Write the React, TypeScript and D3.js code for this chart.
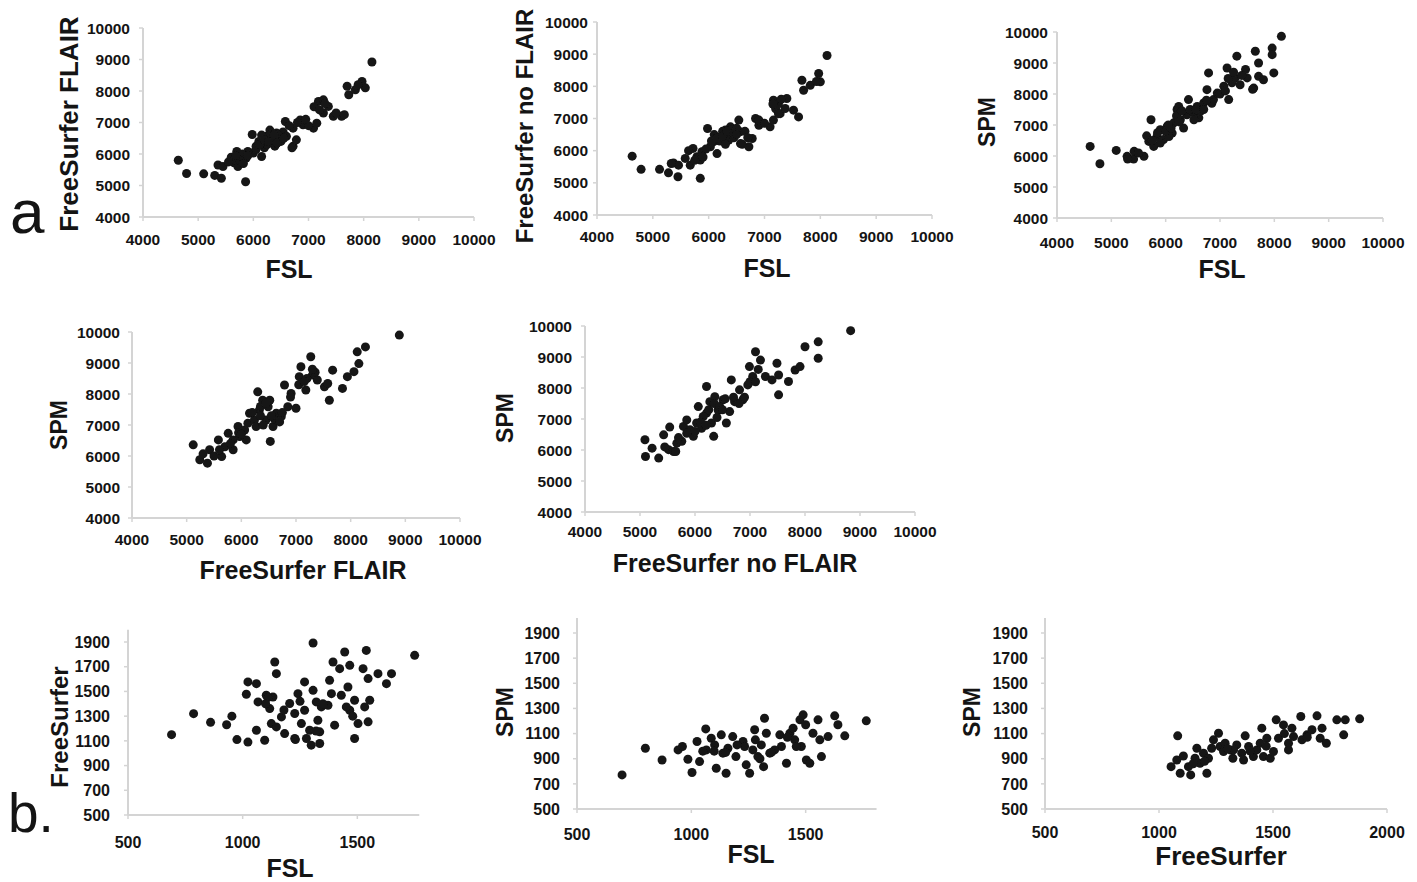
import React from "react";
import * as d3 from "d3";

const FONT = '"Liberation Sans", Arial, Helvetica, sans-serif';
const AXIS = "#d4d4d4";
const INK = "#141414";

// tick values
const BIG_TICKS = [4000, 5000, 6000, 7000, 8000, 9000, 10000];
const SMALL_Y_TICKS = [500, 700, 900, 1100, 1300, 1500, 1700, 1900];
const SMALL_X_TICKS_B1 = [500, 1000, 1500];
const SMALL_X_TICKS_B3 = [500, 1000, 1500, 2000];

// FreeSurfer FLAIR vs FSL
const FS_FLAIR_VS_FSL = [
  [4640, 5800], [4790, 5380], [5100, 5370], [5300, 5320], [5420, 5230], [5360, 5650],
  [5450, 5600], [5600, 5900], [5650, 5720], [5700, 6080], [5720, 5600], [5780, 5950],
  [5870, 5870], [5860, 5120], [5900, 6080], [5980, 6620], [6150, 5920], [6050, 6250],
  [6180, 6350], [6240, 6560], [6300, 6760], [6330, 6450], [6390, 6250], [6420, 6670],
  [6480, 6450], [6540, 6700], [6600, 6560], [6580, 7030], [6720, 6250], [6780, 6450],
  [6720, 6820], [6850, 7080], [6900, 6930], [7090, 6820], [7150, 6980], [7180, 7670],
  [7270, 7300], [7360, 7510], [7450, 7200], [7600, 7200], [7700, 8150], [7730, 7880],
  [7850, 8040], [7970, 8300], [8030, 8100], [8150, 8920], [7270, 7720], [6000, 6030],
  [5800, 6000], [5750, 5800], [6100, 6400], [6200, 6200], [6250, 6500], [6300, 6600],
  [6350, 6350], [6400, 6500], [6450, 6600], [6500, 6400], [6150, 6600], [6250, 6300],
  [6650, 6900], [6800, 7000], [7000, 6900], [7100, 7500], [7200, 7400], [7300, 7600],
  [7500, 7300], [7650, 7250], [7900, 8200], [6700, 6200], [6950, 7100], [5550, 5750],
  [5680, 5950], [6050, 6150], [6120, 6300], [6200, 6450], [6280, 6400], [6370, 6600],
  [6430, 6350], [6550, 6500], [5900, 5950], [5820, 5700],
];

// FreeSurfer no FLAIR vs FSL
const FS_NOFLAIR_VS_FSL = [
  [4630, 5830], [4790, 5420], [5120, 5420], [5280, 5310], [5450, 5190], [5370, 5620],
  [5460, 5550], [5580, 5760], [5670, 5550], [5720, 6070], [5790, 5810], [5850, 5140],
  [5880, 5970], [5980, 6690], [6150, 5910], [6090, 6280], [6210, 6430], [6300, 6640],
  [6360, 6330], [6450, 6530], [6390, 6740], [6570, 6590], [6540, 6950], [6570, 6220],
  [6720, 6120], [6780, 6380], [6840, 7000], [6900, 6790], [7100, 6740], [7160, 6950],
  [7160, 7570], [7250, 7460], [7280, 7150], [7400, 7620], [7520, 7260], [7610, 7050],
  [7670, 8190], [7700, 7880], [7820, 8030], [7970, 8400], [8000, 8140], [8120, 8960],
  [7370, 7310], [5850, 5710], [6030, 6120], [6100, 6500], [6200, 6300], [6250, 6600],
  [6350, 6500], [6400, 6650], [6450, 6400], [6500, 6700], [6300, 6200], [6050, 6300],
  [5950, 6050], [5750, 5700], [6650, 6600], [6900, 6950], [7000, 6850], [7200, 7300],
  [7300, 7600], [7150, 7450], [7250, 7150], [6600, 6200], [6700, 6400], [5640, 6000],
  [5330, 5600], [7930, 8150], [6150, 6400], [6250, 6450], [6330, 6600], [6450, 6550],
  [5900, 5800], [6500, 6500],
];

// SPM vs FSL
const SPM_VS_FSL = [
  [4610, 6310], [4790, 5750], [5090, 6180], [5290, 5990], [5410, 5900], [5420, 6150],
  [5600, 5990], [5690, 6470], [5730, 7170], [5780, 6310], [5840, 6630], [5900, 6850],
  [5960, 6530], [6030, 6960], [6120, 6740], [6150, 7070], [6210, 7500], [6240, 7600],
  [6270, 7170], [6330, 6900], [6390, 7330], [6420, 7820], [6520, 7390], [6580, 7600],
  [6610, 7230], [6700, 7710], [6790, 8680], [6760, 8140], [6880, 7820], [6950, 8030],
  [7070, 8250], [7130, 8840], [7160, 7820], [7220, 8360], [7280, 8520], [7310, 9220],
  [7370, 8300], [7470, 8790], [7500, 8520], [7620, 8190], [7650, 9380], [7710, 9000],
  [7710, 8570], [7800, 8460], [7960, 9480], [7960, 9270], [7990, 8680], [8130, 9860],
  [5900, 6420], [6060, 6630], [6520, 7170], [6640, 7440], [5650, 6650], [6000, 6800],
  [6200, 7300], [6300, 7450], [6450, 7500], [6700, 7500], [6850, 7700], [7000, 8000],
  [7100, 8100], [7150, 8500], [7400, 8600], [7600, 8150], [6100, 6900], [5300, 5900],
  [5500, 6100], [5750, 6500], [5850, 6750], [6050, 7000], [6250, 7100], [6550, 7500],
  [6750, 7800], [7250, 8700],
];

// SPM vs FreeSurfer FLAIR
const SPM_VS_FS_FLAIR = [
  [5120, 6360], [5240, 5880], [5300, 6070], [5380, 5770], [5420, 6200], [5580, 6520],
  [5640, 5980], [5700, 6300], [5760, 6730], [5850, 6520], [5940, 6950], [5970, 6630],
  [6060, 6840], [6120, 7060], [6150, 7380], [6240, 7160], [6300, 8070], [6330, 7480],
  [6390, 7800], [6450, 7160], [6490, 7590], [6520, 7800], [6530, 6470], [6580, 6950],
  [6640, 7380], [6730, 7270], [6790, 8290], [6850, 7590], [6910, 8020], [7000, 7540],
  [7060, 8560], [7090, 8880], [7180, 8130], [7270, 9200], [7300, 8610], [7390, 8450],
  [7520, 8230], [7580, 8340], [7610, 7800], [7670, 8770], [7850, 8180], [7940, 8560],
  [8060, 8720], [8120, 9360], [8150, 8980], [8270, 9520], [8890, 9900], [6270, 6950],
  [6090, 6520], [5850, 6200], [5500, 6000], [6200, 7400], [6350, 7600], [6450, 7700],
  [6600, 7200], [6700, 7100], [6900, 7900], [7050, 8300], [7200, 8500], [7350, 8700],
  [5950, 6750], [6400, 7000], [5600, 6200], [5800, 6400], [6000, 6700], [6350, 7300],
  [6550, 7300], [6750, 7400], [7150, 8400], [7300, 8800],
];

// SPM vs FreeSurfer no FLAIR
const SPM_VS_FS_NOFLAIR = [
  [5090, 6330], [5100, 5790], [5220, 6060], [5340, 5740], [5430, 6490], [5540, 6740],
  [5520, 6010], [5610, 5950], [5670, 6220], [5760, 6280], [5790, 6760], [5850, 6970],
  [5910, 6650], [5970, 6440], [6030, 6870], [6060, 7400], [6120, 6700], [6210, 8050],
  [6210, 7190], [6270, 7560], [6300, 6870], [6340, 6440], [6360, 7720], [6420, 7290],
  [6510, 7620], [6570, 6870], [6630, 7240], [6660, 8260], [6720, 7560], [6810, 7940],
  [6870, 7620], [6960, 8100], [6990, 8690], [7050, 8370], [7100, 9170], [7190, 8900],
  [7280, 8370], [7400, 8260], [7490, 8800], [7520, 7780], [7520, 8420], [7700, 8210],
  [7820, 8580], [7910, 8690], [8000, 9330], [8240, 9490], [8240, 8960], [8830, 9850],
  [6150, 7080], [5850, 6540], [6000, 6600], [6250, 7300], [6350, 7500], [6450, 7400],
  [6550, 7650], [6800, 7500], [6900, 7700], [7000, 8200], [7150, 8600], [5650, 5950],
  [6100, 6900], [6400, 7050], [5450, 6100], [5700, 6400], [6200, 6800], [6500, 7300],
  [6700, 7700], [7100, 8200],
];

// FreeSurfer vs FSL (b)
const B_FS_VS_FSL = [
  [690, 1150], [786, 1320], [860, 1250], [930, 1230], [953, 1300], [975, 1110],
  [1023, 1090], [1016, 1477], [1023, 1577], [1060, 1563], [1067, 1415], [1060, 1186],
  [1096, 1105], [1103, 1469], [1118, 1361], [1125, 1240], [1132, 1455], [1140, 1738],
  [1147, 1644], [1147, 1213], [1169, 1294], [1183, 1159], [1205, 1402], [1227, 1321],
  [1227, 1119], [1241, 1482], [1256, 1240], [1270, 1577], [1270, 1348], [1278, 1119],
  [1292, 1186], [1299, 1065], [1307, 1892], [1307, 1509], [1321, 1415], [1328, 1267],
  [1336, 1173], [1343, 1375], [1372, 1388], [1379, 1590], [1387, 1482], [1401, 1227],
  [1394, 1738], [1423, 1684], [1430, 1469], [1445, 1819], [1459, 1536], [1467, 1711],
  [1467, 1348], [1488, 1429], [1488, 1119], [1503, 1240], [1525, 1684], [1532, 1375],
  [1539, 1832], [1547, 1604], [1547, 1254], [1554, 1429], [1590, 1644], [1627, 1563],
  [1649, 1644], [1750, 1792], [1452, 1375], [1336, 1079], [1110, 1450], [1180, 1350],
  [1250, 1420], [1320, 1180], [1350, 1400], [1480, 1300], [1100, 1400], [1230, 1110],
];

// SPM vs FSL (b)
const B_SPM_VS_FSL = [
  [697, 771], [799, 983], [872, 890], [942, 970], [961, 997], [985, 896],
  [1003, 790], [1025, 1037], [1036, 877], [1063, 1137], [1066, 970], [1087, 1063],
  [1102, 1010], [1109, 824], [1131, 1090], [1138, 944], [1152, 784], [1160, 983],
  [1181, 1076], [1195, 917], [1226, 1037], [1233, 997], [1240, 851], [1255, 784],
  [1269, 970], [1277, 1130], [1291, 917], [1306, 1010], [1320, 1222], [1316, 837],
  [1328, 1103], [1343, 944], [1387, 1090], [1394, 997], [1416, 864], [1431, 1103],
  [1445, 1143], [1452, 1050], [1475, 1209], [1481, 997], [1489, 1249], [1503, 890],
  [1518, 864], [1532, 1103], [1554, 1209], [1562, 1050], [1569, 917], [1598, 1076],
  [1627, 1241], [1641, 1170], [1671, 1082], [1765, 1201], [1364, 970], [1459, 997],
  [1100, 960], [1300, 900], [1150, 950], [1200, 1010], [1280, 1050], [1350, 950],
  [1420, 1070], [1500, 1170], [1050, 960],
];

// SPM vs FreeSurfer (b)
const B_SPM_VS_FS = [
  [1053, 837], [1082, 1082], [1078, 890], [1093, 784], [1107, 922], [1129, 837],
  [1139, 771], [1158, 904], [1166, 983], [1180, 864], [1195, 944], [1210, 784],
  [1217, 904], [1231, 983], [1239, 1050], [1261, 1103], [1268, 997], [1290, 1023],
  [1312, 970], [1324, 904], [1341, 1010], [1363, 944], [1371, 890], [1378, 1082],
  [1393, 997], [1414, 917], [1429, 970], [1444, 1023], [1451, 1143], [1458, 917],
  [1473, 1063], [1488, 904], [1502, 957], [1514, 1209], [1524, 1063], [1546, 1169],
  [1568, 1023], [1568, 970], [1583, 1143], [1590, 1076], [1622, 1236], [1627, 1050],
  [1649, 1090], [1671, 1130], [1693, 1241], [1707, 1063], [1715, 1143], [1734, 1023],
  [1780, 1209], [1810, 1090], [1817, 1209], [1880, 1217], [1327, 970], [1283, 957],
  [1150, 860], [1200, 880], [1300, 980], [1400, 960], [1470, 1000], [1550, 1100],
  [1650, 1070],
];

const PANELS = [
  {
    points: FS_FLAIR_VS_FSL, xDomain: [4000, 10000], yDomain: [4000, 10000],
    xRange: [143, 474], yRange: [217, 28], xTicks: BIG_TICKS, yTicks: BIG_TICKS,
    tickSize: 15.5, xLabelY: 245, yLabelGap: 13,
    xTitle: "FSL", xTitleX: 289, xTitleY: 278, xTitleSize: 25,
    yTitle: "FreeSurfer FLAIR", yTitleX: 78, yTitleY: 124, yTitleSize: 26,
  },
  {
    points: FS_NOFLAIR_VS_FSL, xDomain: [4000, 10000], yDomain: [4000, 10000],
    xRange: [597, 932], yRange: [215, 22], xTicks: BIG_TICKS, yTicks: BIG_TICKS,
    tickSize: 15.5, xLabelY: 242, yLabelGap: 9,
    xTitle: "FSL", xTitleX: 767, xTitleY: 277, xTitleSize: 25,
    yTitle: "FreeSurfer no FLAIR", yTitleX: 533, yTitleY: 126, yTitleSize: 24,
  },
  {
    points: SPM_VS_FSL, xDomain: [4000, 10000], yDomain: [4000, 10000],
    xRange: [1057, 1383], yRange: [218, 32], xTicks: BIG_TICKS, yTicks: BIG_TICKS,
    tickSize: 15.5, xLabelY: 248, yLabelGap: 9,
    xTitle: "FSL", xTitleX: 1222, xTitleY: 278, xTitleSize: 25,
    yTitle: "SPM", yTitleX: 995, yTitleY: 122, yTitleSize: 23,
  },
  {
    points: SPM_VS_FS_FLAIR, xDomain: [4000, 10000], yDomain: [4000, 10000],
    xRange: [132, 460], yRange: [518, 332], xTicks: BIG_TICKS, yTicks: BIG_TICKS,
    tickSize: 15.5, xLabelY: 545, yLabelGap: 12,
    xTitle: "FreeSurfer FLAIR", xTitleX: 303, xTitleY: 579, xTitleSize: 25,
    yTitle: "SPM", yTitleX: 67, yTitleY: 425, yTitleSize: 23,
  },
  {
    points: SPM_VS_FS_NOFLAIR, xDomain: [4000, 10000], yDomain: [4000, 10000],
    xRange: [585, 915], yRange: [512, 326], xTicks: BIG_TICKS, yTicks: BIG_TICKS,
    tickSize: 15.5, xLabelY: 537, yLabelGap: 13,
    xTitle: "FreeSurfer no FLAIR", xTitleX: 735, xTitleY: 572, xTitleSize: 25,
    yTitle: "SPM", yTitleX: 513, yTitleY: 418, yTitleSize: 23,
  },
  {
    points: B_FS_VS_FSL, xDomain: [500, 2000], yDomain: [500, 1900],
    xRange: [128, 472], yRange: [815, 642], xTicks: SMALL_X_TICKS_B1, yTicks: SMALL_Y_TICKS,
    xAxisMax: 1770, yAxisMax: 2000,
    tickSize: 16, xLabelY: 848, yLabelGap: 18,
    xTitle: "FSL", xTitleX: 290, xTitleY: 877, xTitleSize: 25,
    yTitle: "FreeSurfer", yTitleX: 68, yTitleY: 727, yTitleSize: 24,
  },
  {
    points: B_SPM_VS_FSL, xDomain: [500, 2000], yDomain: [500, 1900],
    xRange: [577, 920], yRange: [809, 633], xTicks: SMALL_X_TICKS_B1, yTicks: SMALL_Y_TICKS,
    xAxisMax: 1810, yAxisMax: 2020,
    tickSize: 16, xLabelY: 840, yLabelGap: 17,
    xTitle: "FSL", xTitleX: 751, xTitleY: 863, xTitleSize: 25,
    yTitle: "SPM", yTitleX: 513, yTitleY: 712, yTitleSize: 23,
  },
  {
    points: B_SPM_VS_FS, xDomain: [500, 2000], yDomain: [500, 1900],
    xRange: [1045, 1387], yRange: [809, 633], xTicks: SMALL_X_TICKS_B3, yTicks: SMALL_Y_TICKS,
    yAxisMax: 2020,
    tickSize: 16, xLabelY: 838, yLabelGap: 17,
    xTitle: "FreeSurfer", xTitleX: 1221, xTitleY: 865, xTitleSize: 26,
    yTitle: "SPM", yTitleX: 980, yTitleY: 712, yTitleSize: 23,
  },
];

function Scatter({ cfg }) {
  const x = d3.scaleLinear().domain(cfg.xDomain).range(cfg.xRange);
  const y = d3.scaleLinear().domain(cfg.yDomain).range(cfg.yRange);
  const x0 = x(cfg.xDomain[0]);
  const y0 = y(cfg.yDomain[0]);
  const xEnd = x(cfg.xAxisMax ?? cfg.xDomain[1]);
  const yEnd = y(cfg.yAxisMax ?? cfg.yDomain[1]);

  return (
    <g fontFamily={FONT}>
      <line x1={x0} x2={xEnd} y1={y0} y2={y0} stroke={AXIS} strokeWidth={2} />
      <line x1={x0} x2={x0} y1={y0} y2={yEnd} stroke={AXIS} strokeWidth={2} />
      {cfg.xTicks.map((t) => (
        <g key={"xt" + t}>
          <line x1={x(t)} x2={x(t)} y1={y0} y2={y0 + 4} stroke={AXIS} strokeWidth={1.5} />
          <text
            x={x(t)}
            y={cfg.xLabelY}
            textAnchor="middle"
            fontSize={cfg.tickSize}
            fontWeight={700}
            fill={INK}
          >
            {t}
          </text>
        </g>
      ))}
      {cfg.yTicks.map((t) => (
        <g key={"yt" + t}>
          <line x1={x0 - 4} x2={x0} y1={y(t)} y2={y(t)} stroke={AXIS} strokeWidth={1.5} />
          <text
            x={x0 - cfg.yLabelGap}
            y={y(t)}
            dy="0.36em"
            textAnchor="end"
            fontSize={cfg.tickSize}
            fontWeight={700}
            fill={INK}
          >
            {t}
          </text>
        </g>
      ))}
      {cfg.points.map(([px, py], i) => (
        <circle key={i} cx={x(px)} cy={y(py)} r={4.5} fill={INK} filter="url(#soft)" />
      ))}
      <text
        x={cfg.xTitleX}
        y={cfg.xTitleY}
        textAnchor="middle"
        fontSize={cfg.xTitleSize}
        fontWeight={700}
        fill={INK}
      >
        {cfg.xTitle}
      </text>
      <text
        transform={`translate(${cfg.yTitleX},${cfg.yTitleY}) rotate(-90)`}
        textAnchor="middle"
        fontSize={cfg.yTitleSize}
        fontWeight={700}
        fill={INK}
      >
        {cfg.yTitle}
      </text>
    </g>
  );
}

export default function App() {
  return (
    <div style={{ position: "absolute", left: 0, top: 0, background: "#fff" }}>
      <svg width={1417} height={882} viewBox="0 0 1417 882" style={{ display: "block" }}>
        <defs>
          <filter id="soft" x="-50%" y="-50%" width="200%" height="200%">
            <feGaussianBlur stdDeviation={0.6} />
          </filter>
        </defs>
        <rect width={1417} height={882} fill="#fff" />
        {PANELS.map((cfg, i) => (
          <Scatter key={i} cfg={cfg} />
        ))}
        <text x={10} y={233} fontFamily={FONT} fontSize={62} fill={INK}>
          a
        </text>
        <text x={8} y={832} fontFamily={FONT} fontSize={55} fill={INK}>
          b.
        </text>
      </svg>
    </div>
  );
}
